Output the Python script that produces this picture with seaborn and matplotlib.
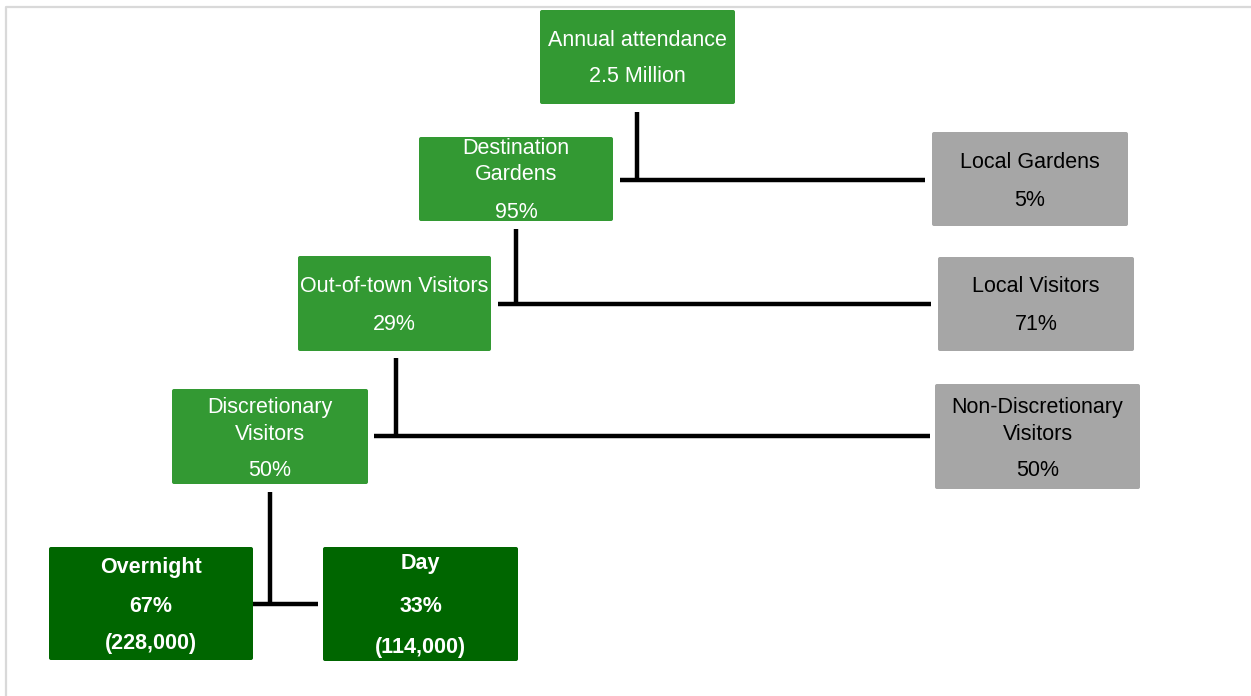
import matplotlib
matplotlib.use("Agg")
import matplotlib.pyplot as plt
import seaborn as sns
from matplotlib.patches import FancyBboxPatch

# --- data ---
node_names = ["Annual attendance", "Destination\nGardens", "Local Gardens",
              "Out-of-town Visitors", "Local Visitors",
              "Discretionary\nVisitors", "Non-Discretionary\nVisitors",
              "Overnight", "Day"]
node_values = ["2.5 Million", "95%", "5%", "29%", "71%", "50%", "50%", "67%", "33%"]
node_counts = ["", "", "", "", "", "", "", "(228,000)", "(114,000)"]
node_kind = ["main", "main", "other", "main", "other", "main", "other", "leaf", "leaf"]

# --- layout (pixel space): x0, y0, x1, y1, text line centres ---
boxes = [
    (540, 10, 735, 104, [38, 75]),
    (419, 137, 613, 221, [147, 173, 211]),
    (932, 132, 1128, 226, [160, 198]),
    (298, 256, 491, 351, [285, 323]),
    (938, 257, 1134, 351, [285, 323]),
    (172, 389, 368, 484, [405, 432, 469]),
    (935, 384, 1140, 489, [405, 432, 469]),
    (49, 547, 253, 660, [566, 604, 641]),
    (323, 547, 518, 661, [561, 604, 646]),
]
# connectors: vertical (x, y0, y1), horizontal (y, x0, x1)
connectors = [
    ((637, 112, 180), (180, 620, 925)),
    ((516, 229, 304), (304, 498, 931)),
    ((396, 358, 438), (436, 374, 930)),
    ((270, 492, 604), (604, 253, 318)),
]

styles = {
    "main": dict(face="#339933", text="white", weight="normal"),
    "other": dict(face="#a6a6a6", text="black", weight="normal"),
    "leaf": dict(face="#006600", text="white", weight="bold"),
}

sns.set_theme(style="white")
plt.rcParams["font.family"] = ["Liberation Sans Narrow", "Liberation Sans", "DejaVu Sans"]

fig = plt.figure(figsize=(12.51, 6.96), dpi=100)
ax = fig.add_axes([0, 0, 1, 1])
ax.set_xlim(0, 1251)
ax.set_ylim(696, 0)
ax.axis("off")

# light frame
ax.plot([6, 6, 1251], [696, 7, 7], color="#d9d9d9", lw=1.6, solid_capstyle="butt")

for (v, h) in connectors:
    ax.plot([v[0], v[0]], [v[1], v[2]], color="black", lw=3.2, solid_capstyle="butt")
    ax.plot([h[1], h[2]], [h[0], h[0]], color="black", lw=3.2, solid_capstyle="butt")

for i, (x0, y0, x1, y1, ys) in enumerate(boxes):
    st = styles[node_kind[i]]
    ax.add_patch(FancyBboxPatch((x0, y0), x1 - x0, y1 - y0,
                                boxstyle="round,pad=0,rounding_size=2",
                                facecolor=st["face"], edgecolor="none"))
    lines = node_names[i].split("\n") + [node_values[i]]
    if node_counts[i]:
        lines.append(node_counts[i])
    cx = (x0 + x1) / 2
    for txt, ty in zip(lines, ys):
        ax.text(cx, ty + 2, txt, ha="center", va="center", color=st["text"],
                fontsize=15.5, fontweight=st["weight"])

fig.savefig("out.png", dpi=100)
